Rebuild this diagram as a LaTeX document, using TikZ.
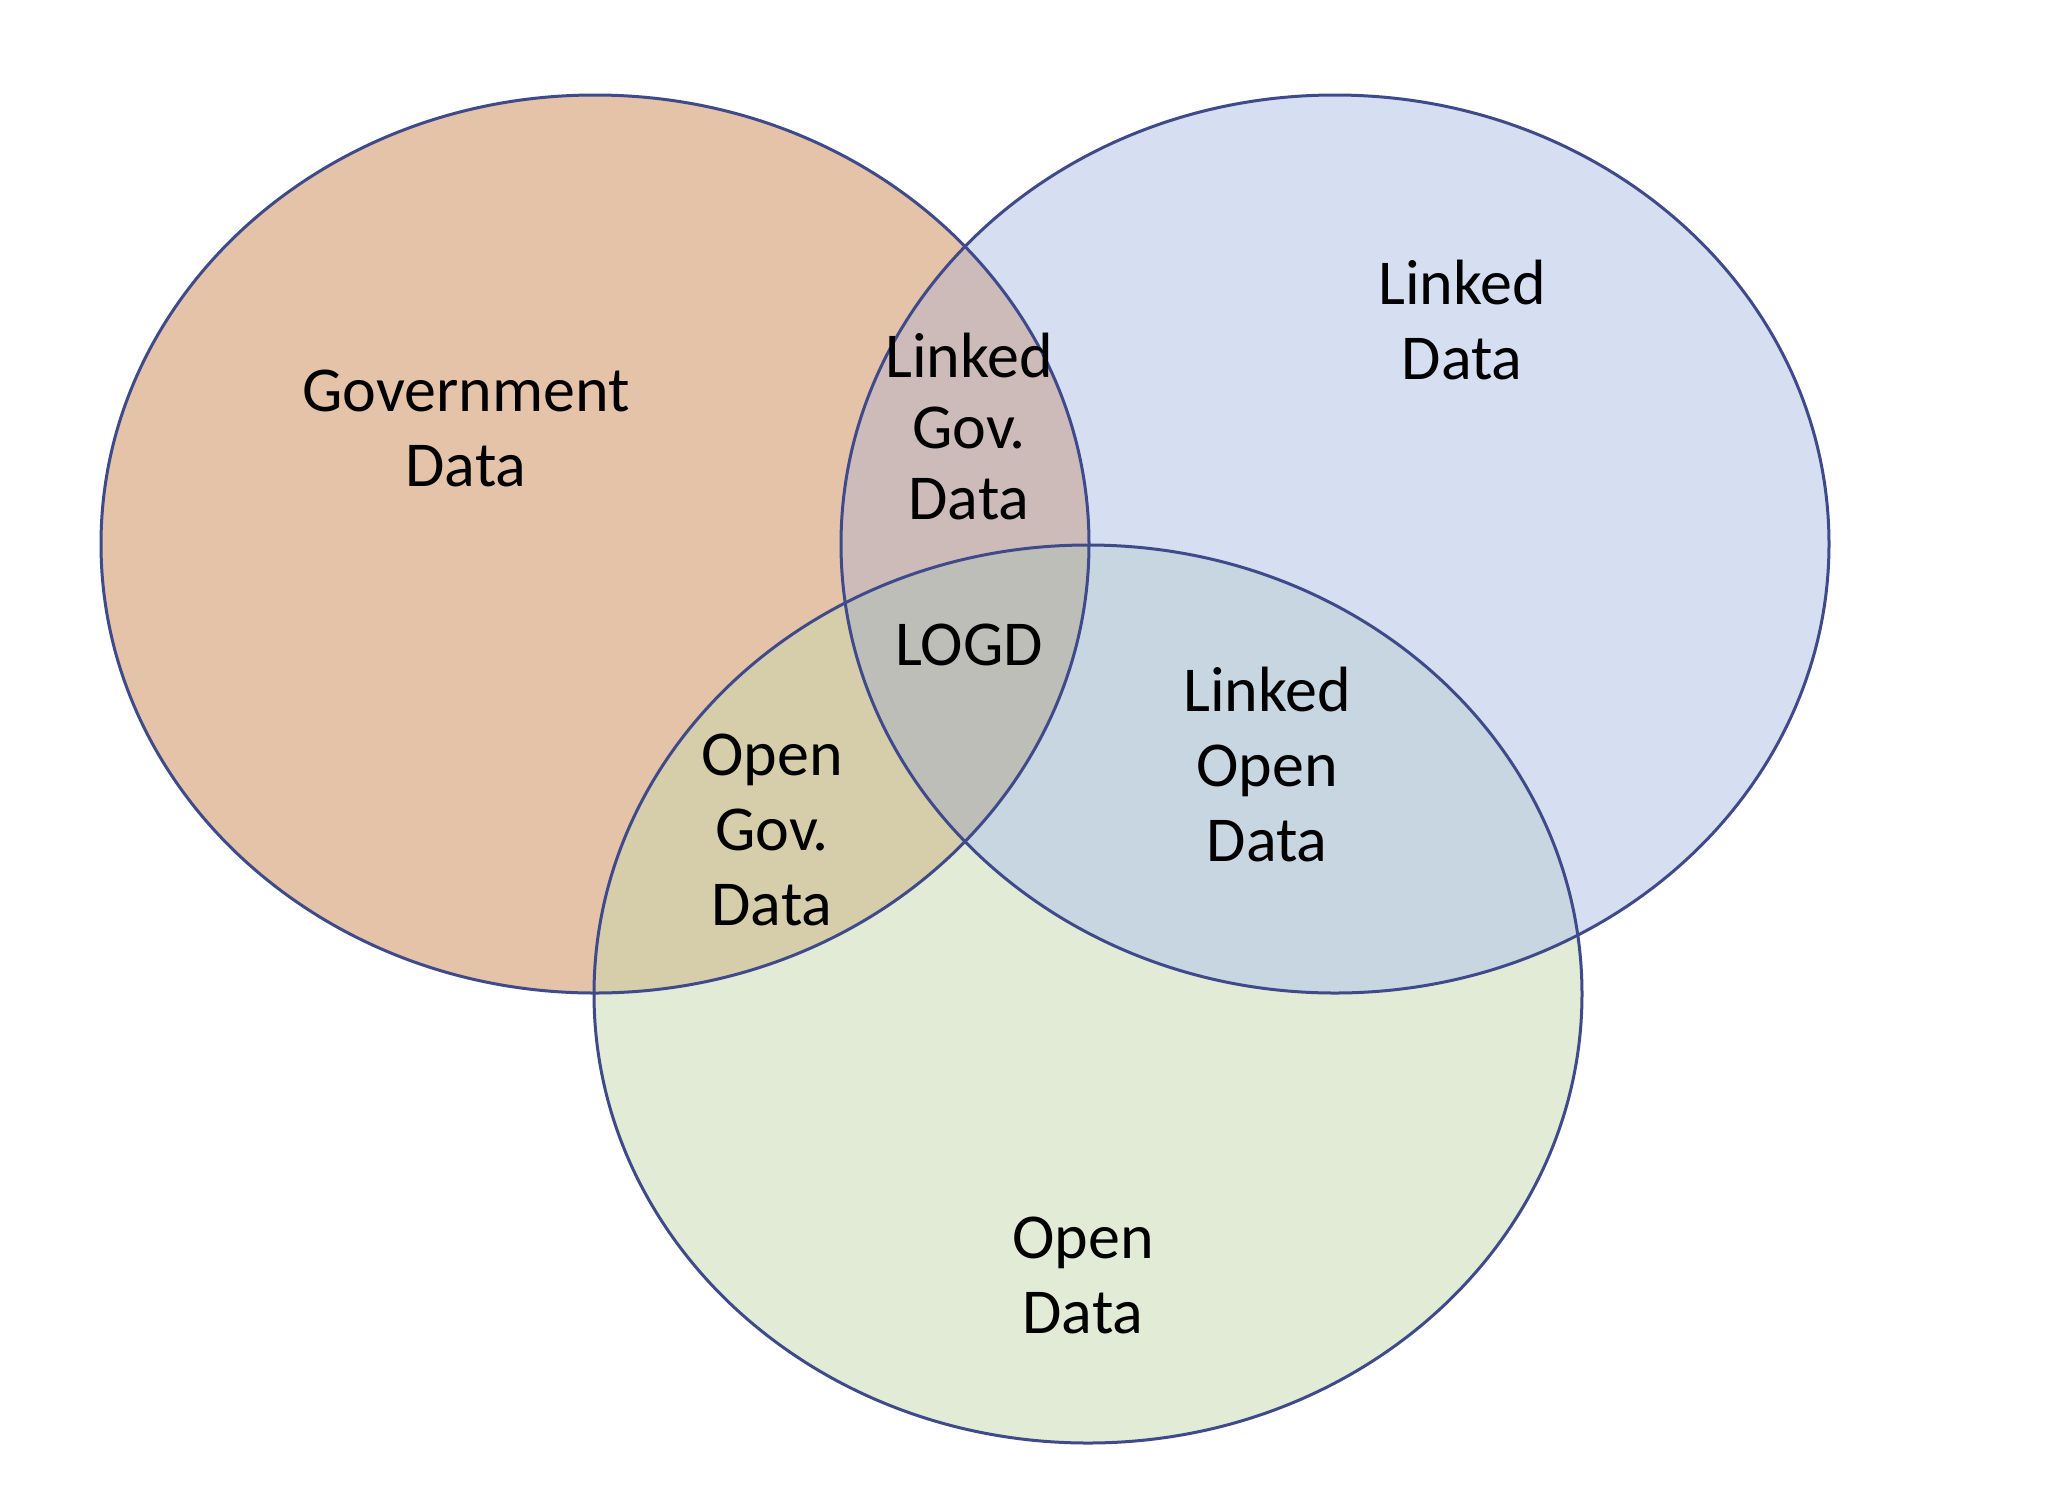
\documentclass[tikz,border=0pt]{standalone}
\usepackage{fontspec}
\setmainfont{Carlito}
\definecolor{govc}{HTML}{E5C3A8}
\definecolor{linc}{HTML}{D6DEF2}
\definecolor{opnc}{HTML}{E2EBD6}
\definecolor{glc}{HTML}{CDBBBA}
\definecolor{goc}{HTML}{D6CDAA}
\definecolor{loc}{HTML}{C7D6E1}
\definecolor{allc}{HTML}{BEBEB9}
\definecolor{edgec}{HTML}{3F4A8A}
\begin{document}
\begin{tikzpicture}[x=1pt,y=-1pt,
  lbl/.style={font=\fontsize{64}{75}\selectfont, align=center, inner sep=0pt, text=black},
  ring/.style={draw=edgec, line width=3pt}]
\useasboundingbox[fill=white] (0,0) rectangle (2050,1500);
\def\gov{(595,544) ellipse [x radius=494, y radius=449]}
\def\lin{(1335,544) ellipse [x radius=494, y radius=449]}
\def\opn{(1088,994) ellipse [x radius=494, y radius=449]}
% base fills
\fill[govc] \gov;
\fill[linc] \lin;
\fill[opnc] \opn;
% pairwise overlaps
\begin{scope}\clip \gov; \fill[glc] \lin; \end{scope}
\begin{scope}\clip \gov; \fill[goc] \opn; \end{scope}
\begin{scope}\clip \lin; \fill[loc] \opn; \end{scope}
\begin{scope}\clip \gov; \clip \lin; \fill[allc] \opn; \end{scope}
% outlines
\draw[ring] \gov;
\draw[ring] \lin;
\draw[ring] \opn;
% labels
\node[lbl] (govt) at (466,428) {Government\\Data};
\node[lbl] (lind) at (1462,320) {Linked\\Data};
\node[lbl, font=\fontsize{64}{71}\selectfont] (lgd) at (969,427) {Linked\\Gov.\\Data};
\node[lbl] (logd) at (969,645) {LOGD};
\node[lbl] (lod) at (1267,765) {Linked\\Open\\Data};
\node[lbl] (ogd) at (772,830) {Open\\Gov.\\Data};
\node[lbl] (opd) at (1083,1275) {Open\\Data};
\end{tikzpicture}
\end{document}
